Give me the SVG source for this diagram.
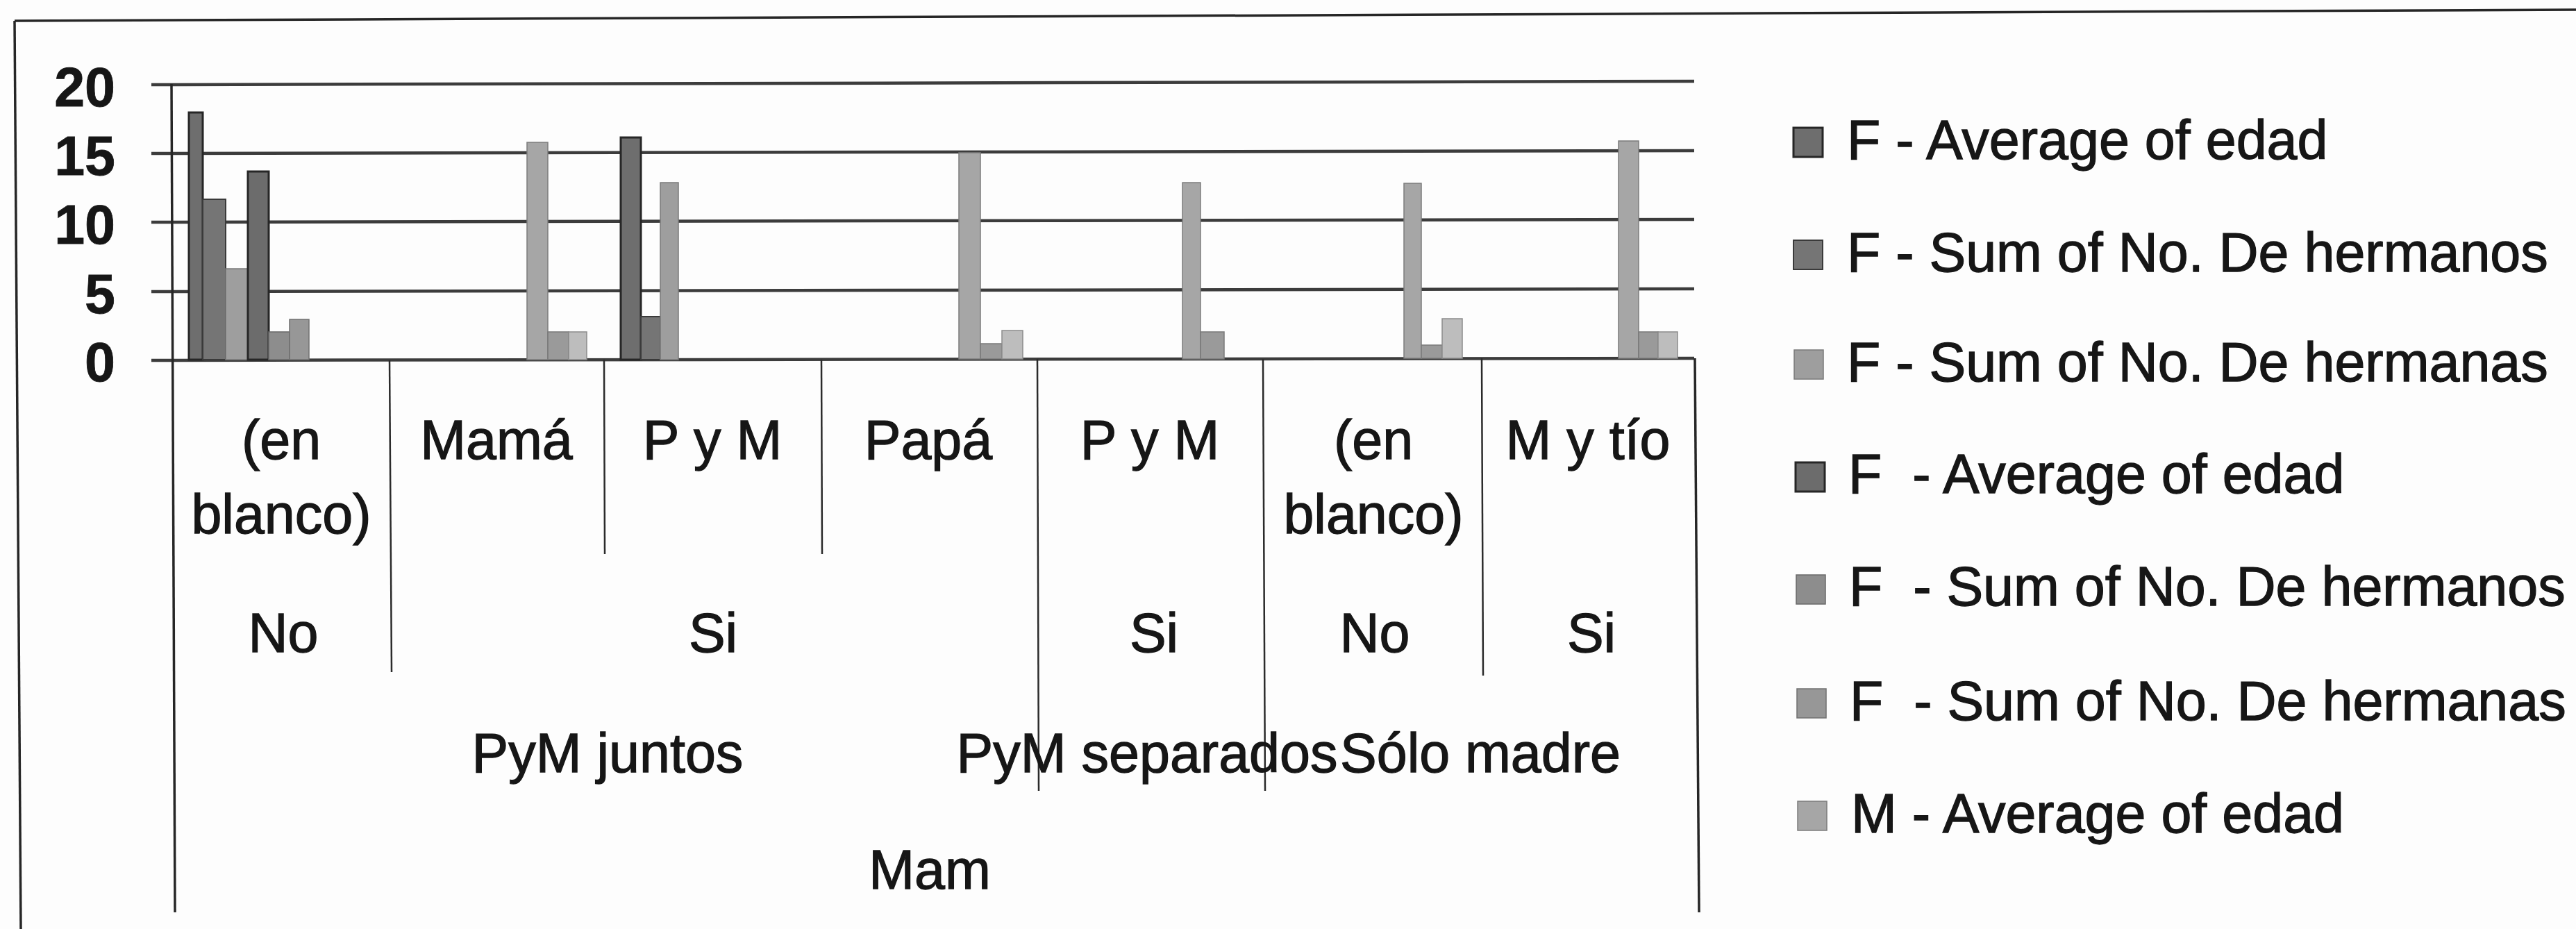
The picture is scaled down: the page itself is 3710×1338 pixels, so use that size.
<svg xmlns="http://www.w3.org/2000/svg" width="3710" height="1338" viewBox="0 0 3710 1338">
<style>
.t{font-family:"Liberation Sans",Arial,sans-serif;font-size:79px;fill:#161616;stroke:#161616;stroke-width:1.3}
.b{font-weight:bold;stroke-width:0.8}
.c{text-anchor:middle}
.r{text-anchor:end}
.lg{white-space:pre}
.grid{stroke:#3c3c3c;stroke-width:4.5;fill:none}
.frame{stroke:#262626;stroke-width:3.5;fill:none}
.sep{stroke:#2b2b2b;stroke-width:2.5;fill:none}
.s0{fill:#6e6e6e;stroke:#262626;stroke-width:3}
.s1{fill:#757575;stroke:#3a3a3a;stroke-width:2}
.s2{fill:#9e9e9e;stroke:#7a7a7a;stroke-width:1.5}
.s3{fill:#6c6c6c;stroke:#262626;stroke-width:3}
.s4{fill:#8d8d8d;stroke:#6a6a6a;stroke-width:1.5}
.s5{fill:#979797;stroke:#707070;stroke-width:1.5}
.s6{fill:#a6a6a6;stroke:#7c7c7c;stroke-width:1.5}
.s7{fill:#9a9a9a;stroke:#7a7a7a;stroke-width:1.5}
.s8{fill:#bdbdbd;stroke:#8c8c8c;stroke-width:1.5}
</style>
<rect x="0" y="0" width="3710" height="1338" fill="#fdfdfd"/>
<g id="frame">
<path class="frame" d="M21,30 L3710,14"/>
<path class="frame" d="M21,30 L30,1338"/>
</g>
<g id="gridlines">
<line class="grid" x1="218" y1="122" x2="2440" y2="117"/>
<line class="grid" x1="218" y1="221" x2="2440" y2="217"/>
<line class="grid" x1="218" y1="320" x2="2440" y2="316"/>
<line class="grid" x1="218" y1="420" x2="2440" y2="416"/>
<line class="grid" x1="218" y1="519" x2="2440" y2="516"/>
</g>
<g id="value-axis-labels">
<text class="t b r" x="166" y="153">20</text>
<text class="t b r" x="166" y="252">15</text>
<text class="t b r" x="166" y="351">10</text>
<text class="t b r" x="166" y="451">5</text>
<text class="t b r" x="166" y="549">0</text>
</g>
<g id="bars">
<g id="cat-0">
<rect class="s0" x="272" y="162" width="20" height="356"/>
<rect class="s1" x="292" y="287" width="33" height="231"/>
<rect class="s2" x="325" y="387" width="32" height="131"/>
<rect class="s3" x="357" y="247" width="30" height="271"/>
<rect class="s4" x="387" y="478" width="30" height="40"/>
<rect class="s5" x="417" y="460" width="28" height="58"/>
</g>
<g id="cat-1">
<rect class="s6" x="759" y="205" width="30" height="313"/>
<rect class="s7" x="789" y="478" width="30" height="40"/>
<rect class="s8" x="819" y="478" width="26" height="40"/>
</g>
<g id="cat-2">
<rect class="s0" x="894" y="198" width="29" height="320"/>
<rect class="s1" x="923" y="456" width="28" height="62"/>
<rect class="s2" x="951" y="263" width="26" height="255"/>
</g>
<g id="cat-3">
<rect class="s6" x="1381" y="220" width="31" height="297"/>
<rect class="s7" x="1412" y="495" width="31" height="22"/>
<rect class="s8" x="1443" y="476" width="30" height="41"/>
</g>
<g id="cat-4">
<rect class="s6" x="1703" y="263" width="26" height="254"/>
<rect class="s7" x="1729" y="478" width="34" height="39"/>
</g>
<g id="cat-5">
<rect class="s6" x="2022" y="264" width="25" height="252"/>
<rect class="s7" x="2047" y="497" width="30" height="19"/>
<rect class="s8" x="2077" y="459" width="29" height="57"/>
</g>
<g id="cat-6">
<rect class="s6" x="2331" y="203" width="29" height="313"/>
<rect class="s7" x="2360" y="478" width="28" height="38"/>
<rect class="s8" x="2388" y="478" width="28" height="38"/>
</g>
</g>
<g id="category-axis">
<line class="frame" x1="247" y1="121" x2="252" y2="1314"/>
<line class="sep" x1="561" y1="519" x2="564" y2="968"/>
<line class="sep" x1="870" y1="518" x2="871" y2="798"/>
<line class="sep" x1="1183" y1="518" x2="1184" y2="798"/>
<line class="sep" x1="1494" y1="517" x2="1496" y2="1139"/>
<line class="sep" x1="1819" y1="517" x2="1822" y2="1139"/>
<line class="sep" x1="2134" y1="516" x2="2136" y2="973"/>
<line class="frame" x1="2441" y1="516" x2="2447" y2="1314"/>
</g>
<g id="category-labels">
<text class="t c" x="405" y="661">(en<tspan x="405" y="768">blanco)</tspan></text>
<text class="t c" x="715" y="661">Mamá</text>
<text class="t c" x="1026" y="661">P y M</text>
<text class="t c" x="1337" y="661">Papá</text>
<text class="t c" x="1656" y="661">P y M</text>
<text class="t c" x="1978" y="661">(en<tspan x="1978" y="768">blanco)</tspan></text>
<text class="t c" x="2287" y="661">M y tío</text>
<text class="t c" x="408" y="939">No</text>
<text class="t c" x="1027" y="939">Si</text>
<text class="t c" x="1662" y="939">Si</text>
<text class="t c" x="1980" y="939">No</text>
<text class="t c" x="2292" y="939">Si</text>
<text class="t c" x="875" y="1112">PyM juntos</text>
<text class="t c" x="1652" y="1112">PyM separados</text>
<text class="t c" x="2132" y="1112">Sólo madre</text>
<text class="t c" x="1339" y="1280">Mam</text>
</g>
<g id="legend">
<g id="legend-1"><rect class="s0" x="2583" y="184" width="42" height="42"/><text class="t lg" x="2660" y="229">F - Average of edad</text></g>
<g id="legend-2"><rect class="s1" x="2583" y="346" width="42" height="42"/><text class="t lg" x="2660" y="391">F - Sum of No. De hermanos</text></g>
<g id="legend-3"><rect class="s2" x="2584" y="504" width="42" height="42"/><text class="t lg" x="2660" y="549">F - Sum of No. De hermanas</text></g>
<g id="legend-4"><rect class="s3" x="2586" y="666" width="42" height="42"/><text class="t lg" x="2662" y="710">F  - Average of edad</text></g>
<g id="legend-5"><rect class="s4" x="2587" y="828" width="42" height="42"/><text class="t lg" x="2663" y="872">F  - Sum of No. De hermanos</text></g>
<g id="legend-6"><rect class="s5" x="2588" y="992" width="42" height="42"/><text class="t lg" x="2664" y="1037">F  - Sum of No. De hermanas</text></g>
<g id="legend-7"><rect class="s6" x="2589" y="1154" width="42" height="42"/><text class="t lg" x="2666" y="1199">M - Average of edad</text></g>
</g>
</svg>
